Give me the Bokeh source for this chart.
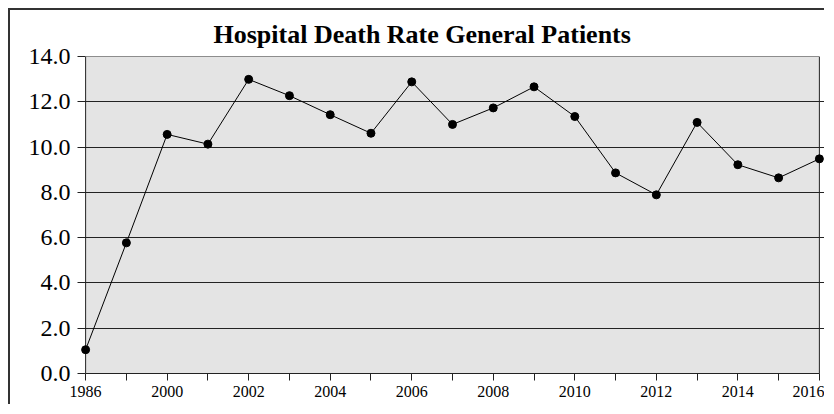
from bokeh.plotting import figure
from bokeh.models import (Range1d, FixedTicker, NumeralTickFormatter, BoxAnnotation, Title)
from bokeh.embed import file_html
from bokeh.resources import INLINE

categories = ["1986", "1999", "2000", "2001", "2002", "2003", "2004", "2005", "2006", "2007",
              "2008", "2009", "2010", "2011", "2012", "2013", "2014", "2015", "2016"]
death_rate = [1.05, 5.77, 10.56, 10.13, 12.99, 12.27, 11.43, 10.61, 12.88, 11.0,
              11.73, 12.66, 11.35, 8.86, 7.89, 11.09, 9.22, 8.64, 9.48]
y_ticks = [0, 2, 4, 6, 8, 10, 12, 14]
title_text = "Hospital Death Rate General Patients"

xs = list(range(len(categories)))
n_last = len(categories) - 1

p = figure(width=816, height=396, output_backend="svg", toolbar_location=None,
           x_range=Range1d(-0.15, n_last + 0.15), y_range=Range1d(0, 14),
           min_border_left=69, min_border_top=46, min_border_right=1, min_border_bottom=33,
           background_fill_color="white", border_fill_color="white",
           outline_line_color=None)
p.styles = {"position": "absolute", "left": "8px", "top": "8px",
            "border-left": "2px solid #333", "border-top": "2px solid #333"}

p.title = Title(text=title_text, align="left", offset=134, standoff=15,
                text_font="Liberation Serif", text_font_size="26px",
                text_font_style="bold", text_color="black")

bg = BoxAnnotation(left=0, right=n_last, bottom=0, top=14, fill_color="#e4e4e4",
                   fill_alpha=1, line_color="#222222", line_width=1, line_alpha=1,
                   level="image")
p.add_layout(bg)

# axes
p.xaxis.ticker = FixedTicker(ticks=xs)
p.xaxis.major_label_overrides = {i: (c if i % 2 == 0 else "") for i, c in enumerate(categories)}
p.xaxis.bounds = (0, n_last)
p.yaxis.ticker = FixedTicker(ticks=y_ticks)
p.yaxis.formatter = NumeralTickFormatter(format="0.0")
for ax in (p.xaxis, p.yaxis):
    ax.major_tick_line_color = "#222222"
    ax.minor_tick_line_color = None
    ax.major_label_text_font = "Liberation Serif"
    ax.major_label_text_color = "black"
p.xaxis.axis_line_color = "#222222"
p.xaxis.major_tick_in = 0
p.xaxis.major_tick_out = 7
p.xaxis.major_label_standoff = 5
p.yaxis.axis_line_color = None
p.yaxis.major_tick_in = 6
p.yaxis.major_tick_out = 2
p.yaxis.major_label_standoff = 7
p.xaxis.major_label_text_font_size = "16px"
p.yaxis.major_label_text_font_size = "24px"

p.xgrid.visible = False
p.ygrid.ticker = FixedTicker(ticks=y_ticks)
p.ygrid.grid_line_color = "#222222"
p.ygrid.grid_line_alpha = 1
p.ygrid.grid_line_width = 1
p.ygrid.bounds = (0, n_last)
p.ygrid.level = "underlay"

p.line(xs, death_rate, line_color="black", line_width=1)
p.scatter(xs, death_rate, size=8, marker="circle", fill_color="black", line_color="black")

open("out.html", "w").write(file_html(p, INLINE))
